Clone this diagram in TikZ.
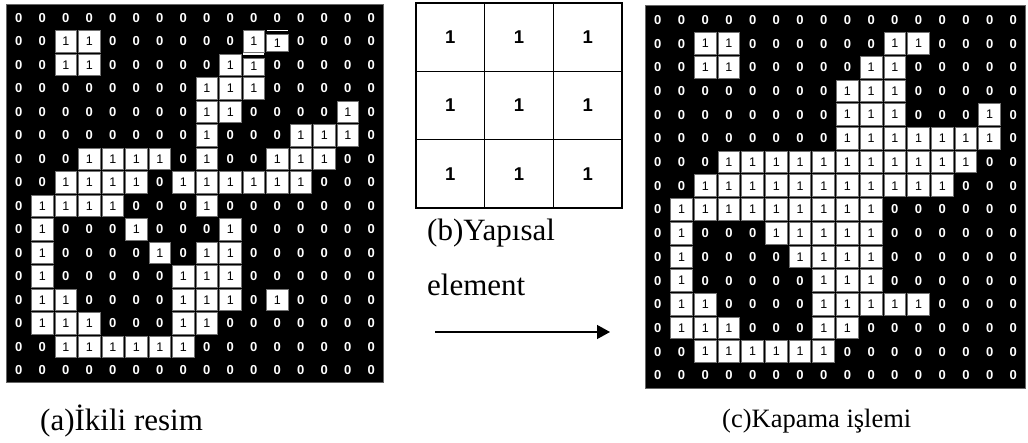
\documentclass[tikz,border=0pt]{standalone}
\usepackage{fontspec}
\setmainfont{Liberation Serif}
\newfontfamily\cellfont{Liberation Sans}
\usetikzlibrary{arrows.meta}

\tikzset{
  panel/.style={fill=black, draw=black!60, line width=0.8pt},
  onecell/.style={draw=black!55, fill=white, line width=0.9pt,
    minimum width=21.5pt, minimum height=21.5pt, inner sep=0pt,
    text=black, font=\cellfont\fontsize{12.5}{12.5}\selectfont},
  zerocell/.style={inner sep=0pt, text=white,
    font=\cellfont\bfseries\fontsize{13}{13}\selectfont},
  secell/.style={draw=black, line width=1.5pt, minimum width=68.7pt,
    minimum height=68.3pt, inner sep=0pt,
    font=\cellfont\bfseries\fontsize{18.5}{18.5}\selectfont},
  caption/.style={anchor=base west, inner sep=0pt,
    font=\fontsize{31}{31}\selectfont},
  arrowline/.style={line width=1.4pt, -{Triangle[length=13pt,width=14pt]}},
}

\begin{document}
\begin{tikzpicture}[x=1pt, y=-1pt]
\useasboundingbox (0,0) rectangle (1028,443);

% ---- (a) binary image: 0 = background, 1 = object, 2 = object cell with a split top edge
\draw[panel] (6,4) rectangle (383,382);
\foreach \rowdata [count=\r from 0] in {
  {0,0,0,0,0,0,0,0,0,0,0,0,0,0,0,0},
  {0,0,1,1,0,0,0,0,0,0,1,2,0,0,0,0},
  {0,0,1,1,0,0,0,0,0,1,2,0,0,0,0,0},
  {0,0,0,0,0,0,0,0,1,1,1,0,0,0,0,0},
  {0,0,0,0,0,0,0,0,1,1,0,0,0,0,1,0},
  {0,0,0,0,0,0,0,0,1,0,0,0,1,1,1,0},
  {0,0,0,1,1,1,1,0,1,0,0,1,1,1,0,0},
  {0,0,1,1,1,1,0,1,1,1,1,1,1,0,0,0},
  {0,1,1,1,1,0,0,0,1,0,0,0,0,0,0,0},
  {0,1,0,0,0,1,0,0,0,1,0,0,0,0,0,0},
  {0,1,0,0,0,0,1,0,1,1,0,0,0,0,0,0},
  {0,1,0,0,0,0,0,1,1,1,0,0,0,0,0,0},
  {0,1,1,0,0,0,0,1,1,1,0,1,0,0,0,0},
  {0,1,1,1,0,0,0,1,1,0,0,0,0,0,0,0},
  {0,0,1,1,1,1,1,1,0,0,0,0,0,0,0,0},
  {0,0,0,0,0,0,0,0,0,0,0,0,0,0,0,0}} {
  \foreach \v [count=\c from 0] in \rowdata {
    \pgfmathsetmacro\px{7+23.5*(\c+0.5)}
    \pgfmathsetmacro\py{6+23.5*(\r+0.5)}
    \ifcase\v\relax
      \node[zerocell] (L-\r-\c) at (\px,\py) {0};
    \or
      \node[onecell] (L-\r-\c) at (\px,\py) {1};
    \or
      \node[onecell, minimum height=17pt] (L-\r-\c) at (\px,\py+1.8) {1};
      \draw[white, line width=1.3pt] (\px-10.5,\py-10.6) -- (\px+10.5,\py-10.6);
    \fi
  }
}

% ---- (b) 3x3 structuring element
\foreach \r in {0,1,2} {
  \foreach \c in {0,1,2} {
    \node[secell] (M-\r-\c) at ({416+68.7*(\c+0.5)},{3+68.3*(\r+0.5)}) {1};
  }
}

% ---- (c) result of the closing operation
\draw[panel] (645,5) rectangle (1025,388);
\foreach \rowdata [count=\r from 0] in {
  {0,0,0,0,0,0,0,0,0,0,0,0,0,0,0,0},
  {0,0,1,1,0,0,0,0,0,0,1,1,0,0,0,0},
  {0,0,1,1,0,0,0,0,0,1,1,0,0,0,0,0},
  {0,0,0,0,0,0,0,0,1,1,1,0,0,0,0,0},
  {0,0,0,0,0,0,0,0,1,1,1,0,0,0,1,0},
  {0,0,0,0,0,0,0,0,1,1,1,1,1,1,1,0},
  {0,0,0,1,1,1,1,1,1,1,1,1,1,1,0,0},
  {0,0,1,1,1,1,1,1,1,1,1,1,1,0,0,0},
  {0,1,1,1,1,1,1,1,1,1,0,0,0,0,0,0},
  {0,1,0,0,0,1,1,1,1,1,0,0,0,0,0,0},
  {0,1,0,0,0,0,1,1,1,1,0,0,0,0,0,0},
  {0,1,0,0,0,0,0,1,1,1,0,0,0,0,0,0},
  {0,1,1,0,0,0,0,1,1,1,1,1,0,0,0,0},
  {0,1,1,1,0,0,0,1,1,0,0,0,0,0,0,0},
  {0,0,1,1,1,1,1,1,0,0,0,0,0,0,0,0},
  {0,0,0,0,0,0,0,0,0,0,0,0,0,0,0,0}} {
  \foreach \v [count=\c from 0] in \rowdata {
    \pgfmathsetmacro\px{646+23.7*(\c+0.5)}
    \pgfmathsetmacro\py{8+23.7*(\r+0.5)}
    \ifcase\v\relax
      \node[zerocell] (R-\r-\c) at (\px,\py) {0};
    \or
      \node[onecell, minimum width=21.7pt, minimum height=21.7pt] (R-\r-\c) at (\px,\py) {1};
    \fi
  }
}

% ---- captions and arrow
\node[caption] (capA) at (40,430) {(a)İkili resim};
\node[caption] (capB) at (427,240.5) {(b)Yapısal};
\node[caption] (capB2) at (427,296) {element};
\node[caption, font=\fontsize{26.5}{26.5}\selectfont] (capC) at (722,428) {(c)Kapama işlemi};

\coordinate (arrowtail) at (435,332);
\coordinate (arrowtip) at (610,332);
\draw[arrowline] (arrowtail) -- (arrowtip);
\end{tikzpicture}
\end{document}
